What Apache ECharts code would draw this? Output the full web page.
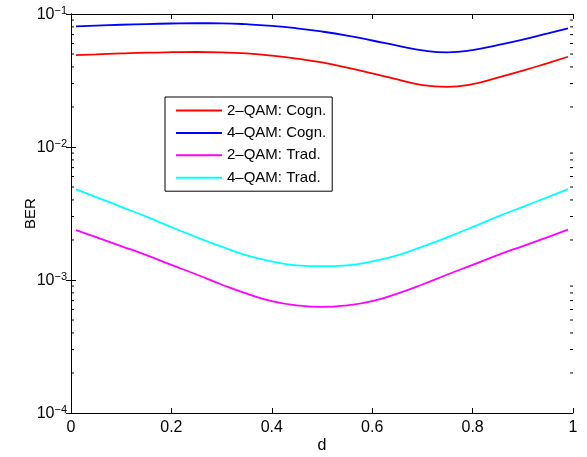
<!DOCTYPE html>
<html>
<head>
<meta charset="utf-8">
<script src="https://cdn.jsdelivr.net/npm/echarts@6/dist/echarts.min.js"></script>
<style>
  html, body { margin: 0; padding: 0; background: #fff; }
  #chart { width: 587px; height: 457px; }
</style>
</head>
<body>
<div id="chart"></div>
<script>
// Separation d along the x axis
const dValues = [0.01, 0.05, 0.10, 0.15, 0.20, 0.25, 0.30, 0.35, 0.40, 0.45, 0.50,
                 0.55, 0.60, 0.65, 0.70, 0.75, 0.80, 0.85, 0.90, 0.95, 0.99];

// Bit error rate per scheme
const ber2QamCogn = [0.0491, 0.0497, 0.0505, 0.0512, 0.0516, 0.0518, 0.0515, 0.0505, 0.0487, 0.0462, 0.0432,
                     0.0395, 0.0358, 0.0322, 0.0292, 0.0283, 0.0297, 0.0332, 0.0375, 0.0428, 0.0477];
const ber4QamCogn = [0.0808, 0.0818, 0.0830, 0.0840, 0.0848, 0.0852, 0.0850, 0.0838, 0.0815, 0.0781, 0.0738,
                     0.0688, 0.0632, 0.0578, 0.0533, 0.0515, 0.0535, 0.0584, 0.0643, 0.0715, 0.0780];
const ber2QamTrad = [0.00237, 0.00210, 0.00180, 0.00154, 0.00130, 0.00110, 0.000925, 0.000790, 0.000695, 0.000645, 0.000627,
                     0.000645, 0.000695, 0.000790, 0.000925, 0.00110, 0.00130, 0.00154, 0.00180, 0.00210, 0.00239];
const ber4QamTrad = [0.00480, 0.00420, 0.00355, 0.00300, 0.00250, 0.00210, 0.00178, 0.00153, 0.00138, 0.00129, 0.00127,
                     0.00129, 0.00138, 0.00153, 0.00178, 0.00210, 0.00250, 0.00300, 0.00355, 0.00420, 0.00482];

const seriesNames = ['2\u2013QAM: Cogn.', '4\u2013QAM: Cogn.', '2\u2013QAM: Trad.', '4\u2013QAM: Trad.'];
const seriesColors = ['#ff0000', '#0000ff', '#ff00ff', '#00ffff'];
const seriesValues = [ber2QamCogn, ber4QamCogn, ber2QamTrad, ber4QamTrad];

// Axis ranges and tick values
const xMin = 0, xMax = 1, xStep = 0.2;
const yMin = 1e-4, yMax = 1e-1;
const yMinorTicks = [2e-4, 3e-4, 4e-4, 5e-4, 6e-4, 7e-4, 8e-4, 9e-4,
                     2e-3, 3e-3, 4e-3, 5e-3, 6e-3, 7e-3, 8e-3, 9e-3,
                     2e-2, 3e-2, 4e-2, 5e-2, 6e-2, 7e-2, 8e-2, 9e-2];

const FONT = 'Liberation Sans, Arial, sans-serif';
const chart = echarts.init(document.getElementById('chart'), null, { renderer: 'canvas' });

const axisLine = { show: true, lineStyle: { color: '#000', width: 1 } };
const tickIn = { show: true, inside: true, length: 5, lineStyle: { color: '#000', width: 1 } };

function decadeLabel(v) {
  const e = Math.round(Math.log10(v));
  return '{b|10}{s|\u2212' + Math.abs(e) + '}';
}

const lineSeries = seriesValues.map((vals, i) => ({
  name: seriesNames[i],
  type: 'line',
  xAxisIndex: 0,
  yAxisIndex: 0,
  data: dValues.map((d, k) => [d, vals[k]]),
  smooth: true,
  symbol: 'none',
  lineStyle: { color: seriesColors[i], width: 1.8 },
  itemStyle: { color: seriesColors[i] },
  z: 3
}));

// Minor ticks of the logarithmic axis on both sides of the box
const minorTickSeries = {
  type: 'custom',
  xAxisIndex: 0,
  yAxisIndex: 0,
  silent: true,
  clip: false,
  data: yMinorTicks.map(v => [xMin, v]),
  renderItem: function (params, api) {
    const v = api.value(1);
    const l = api.coord([xMin, v]);
    const r = api.coord([xMax, v]);
    const style = { stroke: '#000', lineWidth: 1 };
    return {
      type: 'group',
      children: [
        { type: 'line', shape: { x1: l[0], y1: l[1], x2: l[0] + 3, y2: l[1] }, style: style },
        { type: 'line', shape: { x1: r[0], y1: r[1], x2: r[0] - 3, y2: r[1] }, style: style }
      ]
    };
  },
  z: 4
};

chart.setOption({
  animation: false,
  backgroundColor: '#fff',
  grid: { left: 71, right: 14, top: 14, bottom: 44, containLabel: false, outerBoundsMode: 'none' },
  legend: {
    data: seriesNames,
    orient: 'vertical',
    left: 165,
    top: 97,
    padding: [6, 6, 6, 10],
    itemWidth: 46,
    itemHeight: 14,
    itemGap: 7.4,
    itemStyle: { opacity: 0 },
    backgroundColor: '#fff',
    borderColor: '#000',
    borderWidth: 1,
    borderRadius: 0,
    textStyle: { fontFamily: FONT, fontSize: 15, color: '#000' }
  },
  xAxis: [
    {
      type: 'value', min: xMin, max: xMax, interval: xStep, position: 'bottom',
      name: 'd', nameLocation: 'middle', nameGap: 25, nameMoveOverlap: false,
      nameTextStyle: { fontFamily: FONT, fontSize: 16, color: '#000' },
      axisLine: axisLine, axisTick: tickIn, splitLine: { show: false },
      axisLabel: { fontFamily: FONT, fontSize: 16, color: '#000', margin: 7 }
    },
    {
      type: 'value', min: xMin, max: xMax, interval: xStep, position: 'top',
      axisLine: axisLine, axisTick: tickIn, splitLine: { show: false },
      axisLabel: { show: false }
    }
  ],
  yAxis: [
    {
      type: 'log', logBase: 10, min: yMin, max: yMax, position: 'left',
      name: 'BER', nameLocation: 'middle', nameGap: 33, nameRotate: 90, nameMoveOverlap: false,
      nameTextStyle: { fontFamily: FONT, fontSize: 15, color: '#000' },
      axisLine: axisLine, axisTick: tickIn, splitLine: { show: false },
      axisLabel: {
        margin: 4,
        formatter: decadeLabel,
        rich: {
          b: { fontFamily: FONT, fontSize: 16, color: '#000', lineHeight: 18, verticalAlign: 'bottom' },
          s: { fontFamily: FONT, fontSize: 11, color: '#000', lineHeight: 18, verticalAlign: 'top', padding: [0, 0, 10, 0] }
        }
      }
    },
    {
      type: 'log', logBase: 10, min: yMin, max: yMax, position: 'right',
      axisLine: axisLine, axisTick: tickIn, splitLine: { show: false },
      axisLabel: { show: false }
    }
  ],
  series: lineSeries.concat([minorTickSeries])
});
</script>
</body>
</html>
